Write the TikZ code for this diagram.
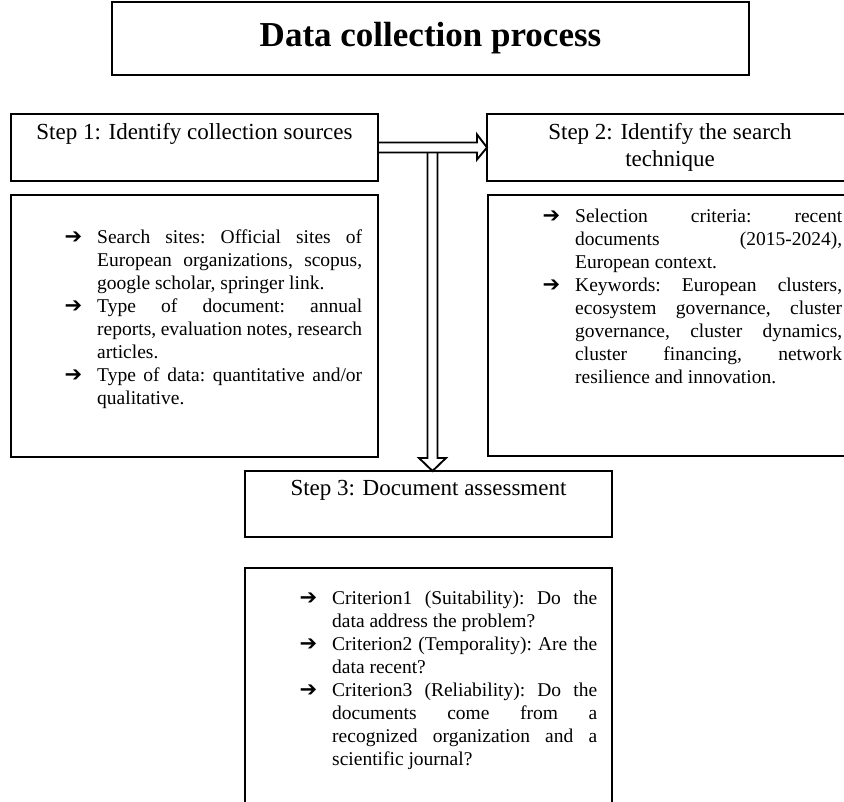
\documentclass[tikz,border=0pt]{standalone}
\usepackage{fontspec}
\setmainfont{Liberation Serif}
\newfontfamily\arrowfont{DejaVu Sans}
\usetikzlibrary{arrows.meta,positioning,calc}
\newcommand{\pitem}{\par\noindent\strut\llap{{\arrowfont\bfseries\fontsize{21}{23}\selectfont ➔}\hspace{15pt}}}
\newcommand{\listsetup}{\frenchspacing\tolerance=10000\hyphenpenalty=10000\emergencystretch=0pt}

\begin{document}
\begin{tikzpicture}[x=1pt, y=-1pt,
  box/.style={draw, line width=1.6pt, inner sep=0pt, outer sep=0pt},
  titlebox/.style={box, minimum width=637pt, minimum height=73pt, font=\fontsize{35}{40}\selectfont\bfseries},
  stepbox/.style={box, minimum width=367pt, minimum height=67pt, align=center, font=\fontsize{23}{27}\selectfont},
  listbox/.style={box, minimum width=367pt},
  listtext/.style={anchor=north west, inner sep=0pt, text width=265pt, align=justify,
                   font=\fontsize{19.5}{23}\selectfont\listsetup},
  flow/.style={draw, line width=1.9pt, line join=miter}]
\useasboundingbox (0,0) rectangle (844,802);
% ---------------- title
\node[titlebox] (title) at (430.5,38.5) {Data collection process};
% ---------------- steps
\node[stepbox] (s1) at (194.5,147.5) {\strut Step 1: Identify collection sources\\ \strut};
\node[stepbox, minimum width=366pt] (s2) at (670,147.5) {\strut Step 2: Identify the search\\ \strut technique};
\node[stepbox, minimum height=66pt] (s3) at (428.5,504) {\strut Step 3: Document assessment\\ \strut};
% ---------------- lists
\node[listbox, minimum height=262pt] (l1) at (194.5,326) {};
\node[listbox, minimum width=365pt, minimum height=261pt] (l2) at (670.5,325.5) {};
\node[listbox, minimum height=242pt] (l3) at (428.5,689) {};
\node[listtext] (t1) at (97,220)
  {\pitem Search sites: Official sites of\linebreak European organizations, scopus,\linebreak google scholar, springer link.
   \pitem Type of document: annual\linebreak reports, evaluation notes, research\linebreak articles.
   \pitem Type of data: quantitative and/or\linebreak qualitative.\par};
\node[listtext, text width=267pt] (t2) at (575,199)
  {\pitem Selection criteria: recent\linebreak documents (2015-2024),\linebreak European context.
   \pitem Keywords: European clusters,\linebreak ecosystem governance, cluster\linebreak governance, cluster dynamics,\linebreak cluster financing, network\linebreak resilience and innovation.\par};
\node[listtext] (t3) at (332,581)
  {\pitem Criterion1 (Suitability): Do the\linebreak data address the problem?
   \pitem Criterion2 (Temporality): Are the\linebreak data recent?
   \pitem Criterion3 (Reliability): Do the\linebreak documents come from a\linebreak recognized organization and a\linebreak scientific journal?\par};
% ---------------- block arrows
\coordinate (vtop) at ($(s1.east)!0.5!(s2.west)+(0,5)$);
\draw[flow] ($(s1.east)+(0,-5)$) -- ($(s2.west)+(-10,-5)$) -- ($(s2.west)+(-10,-13)$) -- (s2.west)
  -- ($(s2.west)+(-10,12)$) -- ($(s2.west)+(-10,5)$) -- ($(s1.east)+(0,5)$);
\draw[flow] ($(vtop)+(-5,0)$) -- ($(vtop|-s3.north)+(-5,-13)$) -- ($(vtop|-s3.north)+(-13.5,-13)$) -- (vtop|-s3.north)
  -- ($(vtop|-s3.north)+(13.5,-13)$) -- ($(vtop|-s3.north)+(5,-13)$) -- ($(vtop)+(5,0)$);
\end{tikzpicture}
\end{document}
